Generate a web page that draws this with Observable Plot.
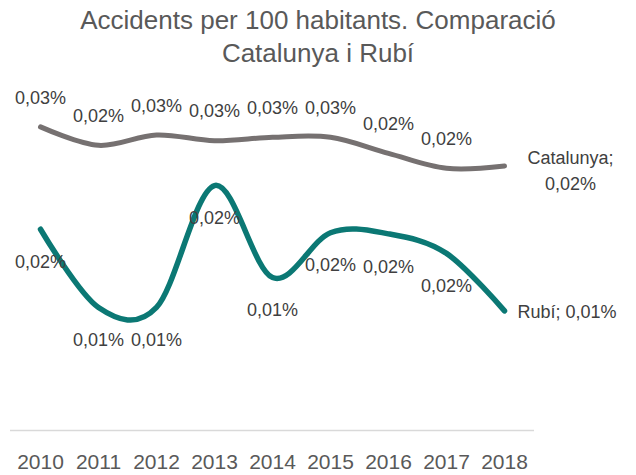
<!DOCTYPE html>
<html><head><meta charset="utf-8">
<script src="https://cdn.jsdelivr.net/npm/d3@7"></script>
<script src="https://cdn.jsdelivr.net/npm/@observablehq/plot@0.6"></script>
<style>
body{margin:0;background:#fff;}
#title{width:636px;height:70px;box-sizing:border-box;padding-top:3.5px;text-align:center;font-family:"Liberation Sans",Arial,sans-serif;font-size:26px;line-height:33px;color:#595959;}
</style></head><body>
<div id="title">Accidents per 100 habitants. Comparació<br>Catalunya i Rubí</div>
<div id="chart"></div>
<script>
const years = ["2010","2011","2012","2013","2014","2015","2016","2017","2018"];
const catalunya = [0.0264, 0.0248, 0.0257, 0.0252, 0.0255, 0.0255, 0.0241, 0.0228, 0.0230];
const rubi = [0.0175, 0.0107, 0.0107, 0.0213, 0.0133, 0.0172, 0.0171, 0.0154, 0.0104];
const seriesNames = ["Catalunya", "Rubí"];
const colors = ["#767171", "#0b7874"];

const catRows = years.map((year, i) => ({year, value: catalunya[i]}));
const rubiRows = years.map((year, i) => ({year, value: rubi[i]}));
const fmt = v => v.toFixed(2).replace(".", ",") + "%";

const chart = Plot.plot({
  width: 636, height: 405,
  marginLeft: 10, marginRight: 102, marginTop: 15, marginBottom: 45,
  style: {fontFamily: "'Liberation Sans', Arial, sans-serif", fontSize: "21px", color: "#595959", background: "white"},
  x: {type: "point", domain: years, padding: 0.5, label: null, tickSize: 0, tickPadding: 24},
  y: {domain: [0, 0.03], axis: null},
  marks: [
    Plot.ruleY([0], {stroke: "#d9d9d9", strokeWidth: 1.5}),
    Plot.line(catRows, {x: "year", y: "value", stroke: colors[0], strokeWidth: 5, curve: "cardinal", strokeLinecap: "round", strokeLinejoin: "round"}),
    Plot.line(rubiRows, {x: "year", y: "value", stroke: colors[1], strokeWidth: 5.5, curve: "cardinal", strokeLinecap: "round", strokeLinejoin: "round"}),
    Plot.text(catRows.slice(0, -1), {x: "year", y: "value", text: d => fmt(d.value), dy: -29, fontSize: 18, fill: "#404040"}),
    Plot.text(rubiRows.slice(0, -1), {x: "year", y: "value", text: d => fmt(d.value), dy: 33, fontSize: 18, fill: "#404040"}),
    Plot.text(catRows.slice(-1), {x: "year", y: "value", text: d => `${seriesNames[0]};\n${fmt(d.value)}`, dx: 66, dy: 3, lineHeight: 1.4, fontSize: 18, fill: "#404040"}),
    Plot.text(rubiRows.slice(-1), {x: "year", y: "value", text: d => `${seriesNames[1]}; ${fmt(d.value)}`, textAnchor: "start", dx: 13, dy: 1, fontSize: 18, fill: "#404040"})
  ]
});
document.getElementById("chart").appendChild(chart);
</script>
</body></html>
